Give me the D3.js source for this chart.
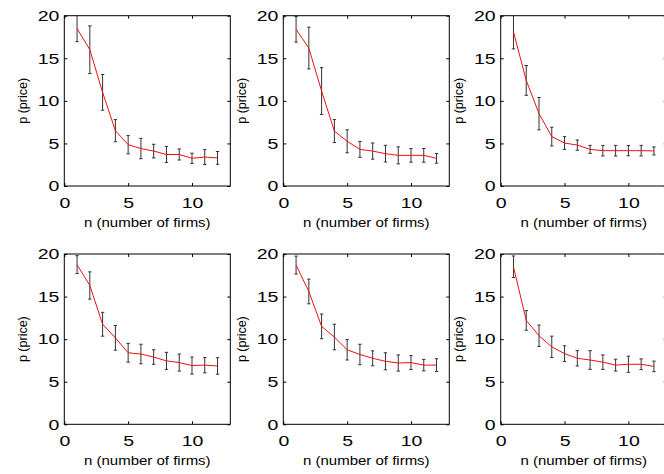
<!DOCTYPE html>
<html>
<head>
<meta charset="utf-8">
<script src="https://cdn.jsdelivr.net/npm/d3@7"></script>
<style>
  body { margin: 0; background: #fff; }
  text { font-family: "Liberation Sans", Arial, sans-serif; fill: #000; }
</style>
</head>
<body>
<div class="graph"></div>
<script>
// number of firms on the x axis
var firms = [1, 2, 3, 4, 5, 6, 7, 8, 9, 10, 11, 12]

// mean price and error bar half-length, one pair per panel
var price1 = [18.5, 16.0, 11.0, 6.5, 4.85, 4.4, 4.1, 3.7, 3.7, 3.25, 3.4, 3.3]
var err1   = [1.55, 2.8, 2.1, 1.3, 1.07, 1.2, 0.8, 0.95, 0.65, 0.6, 0.87, 0.75]
var price2 = [18.4, 16.2, 11.15, 6.45, 5.25, 4.3, 4.1, 3.8, 3.6, 3.6, 3.6, 3.25]
var err2   = [1.5, 2.45, 2.75, 1.35, 1.35, 0.93, 0.95, 0.98, 1.0, 0.8, 0.8, 0.57]
var price3 = [18.1, 12.4, 8.5, 5.8, 5.05, 4.8, 4.3, 4.15, 4.15, 4.15, 4.15, 4.12]
var err3   = [2.0, 1.75, 1.9, 1.1, 0.75, 0.6, 0.47, 0.62, 0.62, 0.6, 0.62, 0.47]
var price4 = [18.75, 16.3, 11.75, 10.15, 8.4, 8.25, 7.9, 7.45, 7.25, 6.9, 6.95, 6.85]
var err4   = [1.05, 1.6, 1.4, 1.45, 1.1, 1.15, 0.85, 1.0, 1.0, 1.0, 0.9, 0.97]
var price5 = [18.7, 15.6, 11.5, 10.25, 8.75, 8.2, 7.75, 7.4, 7.2, 7.25, 6.95, 6.95]
var err5   = [1.05, 1.45, 1.45, 1.5, 1.2, 1.2, 0.88, 1.0, 0.95, 0.82, 0.67, 0.75]
var price6 = [18.5, 12.2, 10.4, 9.1, 8.3, 7.75, 7.55, 7.3, 6.95, 7.05, 7.05, 6.8]
var err6   = [1.27, 1.15, 1.25, 1.25, 0.92, 0.9, 1.1, 0.85, 0.7, 0.95, 0.63, 0.62]

var xTicks = [0, 5, 10]
var yTicks = [0, 5, 10, 15, 20]
var xLabel = 'n (number of firms)'
var yLabel = 'p (price)'

var panels = [
  {price: price1, err: err1},
  {price: price2, err: err2},
  {price: price3, err: err3},
  {price: price4, err: err4},
  {price: price5, err: err5},
  {price: price6, err: err6}
]

var colLeft = [64.3, 283.3, 500.7]
var rowTop = [15.7, 254]
var width = 166, height = 170.3
var tickLen = 3
var sx = 1.3   // the original text is stretched sideways

var svg = d3.select('.graph').append('svg')
  .attr('width', 664).attr('height', 474)

var x = d3.scaleLinear().domain([0, 13]).range([0, width])
var y = d3.scaleLinear().domain([0, 20]).range([height, 0])

svg.append('clipPath').attr('id', 'plot-clip')
  .append('rect').attr('width', width).attr('height', height)

panels.forEach((p, i) => {
  var g = svg.append('g')
    .attr('transform', `translate(${colLeft[i % 3]},${rowTop[Math.floor(i / 3)]})`)

  var rows = firms.map((n, j) => ({n, v: p.price[j], e: p.err[j]}))

  // inward ticks on all four sides
  var left = g.append('g').call(d3.axisLeft(y).tickValues(yTicks).tickSizeInner(-tickLen).tickSizeOuter(0).tickPadding(5))
  var bottom = g.append('g').attr('transform', `translate(0,${height})`)
    .call(d3.axisBottom(x).tickValues(xTicks).tickSizeInner(-tickLen).tickSizeOuter(0).tickPadding(11))
  g.append('g').attr('transform', `translate(${width},0)`)
    .call(d3.axisRight(y).tickValues(yTicks).tickSizeInner(-tickLen).tickSizeOuter(0).tickFormat(''))
  g.append('g')
    .call(d3.axisTop(x).tickValues(xTicks).tickSizeInner(-tickLen).tickSizeOuter(0).tickFormat(''))

  g.selectAll('.domain').remove()
  g.selectAll('.tick line').attr('stroke', '#000')

  left.selectAll('text')
    .attr('x', -5 / sx)
    .attr('transform', `scale(${sx},1)`)
    .style('font-size', '15px')
  bottom.selectAll('text')
    .attr('transform', `scale(${sx},1)`)
    .style('font-size', '15px')

  // error bars
  var bars = g.append('g').attr('clip-path', 'url(#plot-clip)')
    .selectAll('g').data(rows).join('g')
    .attr('stroke', '#333').attr('stroke-width', 1)
  bars.append('line')
    .attr('x1', d => x(d.n)).attr('x2', d => x(d.n))
    .attr('y1', d => y(d.v - d.e)).attr('y2', d => y(d.v + d.e))
  bars.append('line')
    .attr('x1', d => x(d.n) - 1.7).attr('x2', d => x(d.n) + 1.7)
    .attr('y1', d => y(d.v + d.e)).attr('y2', d => y(d.v + d.e))
  bars.append('line')
    .attr('x1', d => x(d.n) - 1.7).attr('x2', d => x(d.n) + 1.7)
    .attr('y1', d => y(d.v - d.e)).attr('y2', d => y(d.v - d.e))

  // mean price line
  g.append('path').datum(rows)
    .attr('d', d3.line().x(d => x(d.n)).y(d => y(d.v)))
    .attr('fill', 'none').attr('stroke', '#f01010').attr('stroke-width', 1)

  // box
  g.append('rect')
    .attr('width', width).attr('height', height)
    .attr('fill', 'none').attr('stroke', '#000').attr('stroke-width', 1)

  g.append('g').attr('transform', `translate(${width / 2},${height + 41})`)
    .append('text')
    .attr('text-anchor', 'middle')
    .attr('transform', 'scale(1.2,1)')
    .style('font-size', '12.5px')
    .text(xLabel)

  g.append('g').attr('transform', `translate(-37.5,${height / 2})`)
    .append('text')
    .attr('text-anchor', 'middle')
    .attr('transform', 'rotate(-90)')
    .style('font-size', '12.5px')
    .text(yLabel)
})
</script>
</body>
</html>
